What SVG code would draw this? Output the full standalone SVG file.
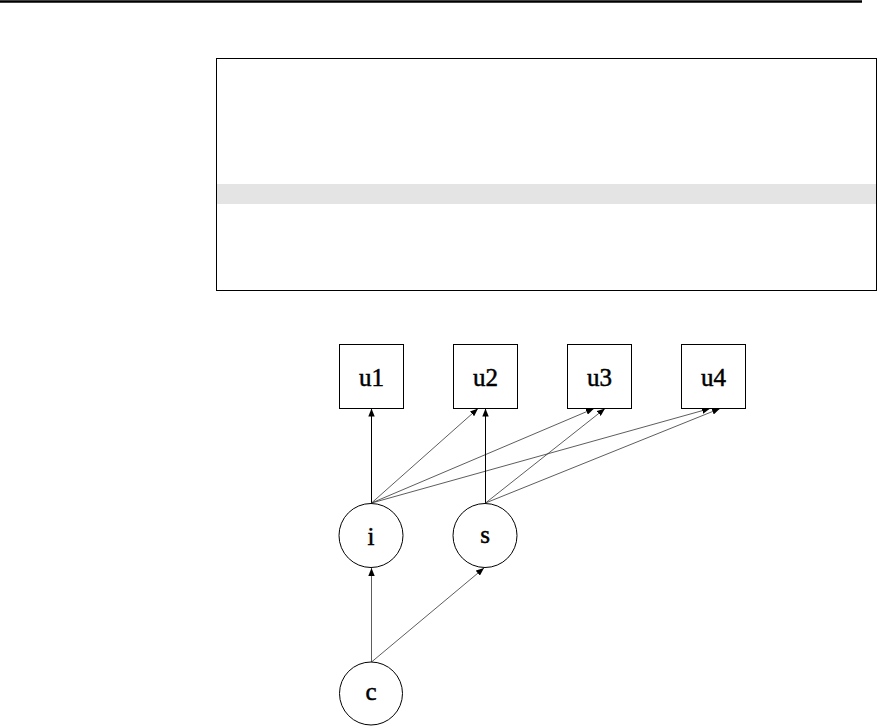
<svg xmlns="http://www.w3.org/2000/svg" width="879" height="727" viewBox="0 0 879 727">
<style>
.node rect, .node circle { fill: #ffffff; stroke: #000000; stroke-width: 1; }
.node text { font-family: "Liberation Serif", "Times New Roman", serif; font-size: 25px; font-weight: normal; text-anchor: middle; fill: #000000; stroke: #000000; stroke-width: 0.5; }
.conn line { stroke: #000000; stroke-width: 1; fill: none; }
.conn line.thin { stroke: #333333; stroke-width: 0.8; }
</style>
<defs>
<marker id="ah" viewBox="0 0 10 8" refX="10" refY="4" markerWidth="8" markerHeight="6.4" markerUnits="userSpaceOnUse" orient="auto">
<path d="M0,0 L10,4 L0,8 Z" fill="#000000"/>
</marker>
</defs>
<rect x="0" y="0" width="879" height="727" fill="#ffffff"/>
<line x1="0" y1="1.5" x2="862" y2="1.5" stroke="#000000" stroke-width="2.5"/>
<g id="panel">
<rect x="216" y="184" width="661" height="20" fill="#e4e4e4"/>
<rect x="216.5" y="58.5" width="660" height="232" fill="none" stroke="#000000" stroke-width="1"/>
</g>
<g id="connectors" class="conn">
<line x1="371.5" y1="503" x2="371.5" y2="408.5" marker-end="url(#ah)"/>
<line class="thin" x1="371.5" y1="503" x2="478" y2="408.5" marker-end="url(#ah)"/>
<line class="thin" x1="371.5" y1="503" x2="594" y2="408.5" marker-end="url(#ah)"/>
<line class="thin" x1="371.5" y1="503" x2="710" y2="408.5" marker-end="url(#ah)"/>
<line x1="485.5" y1="503" x2="485.5" y2="408.5" marker-end="url(#ah)"/>
<line class="thin" x1="485.5" y1="503" x2="605" y2="408.5" marker-end="url(#ah)"/>
<line class="thin" x1="485.5" y1="503" x2="720" y2="408.5" marker-end="url(#ah)"/>
<line class="thin" x1="371.5" y1="662" x2="371.5" y2="568" marker-end="url(#ah)"/>
<line class="thin" x1="371.5" y1="662" x2="484" y2="568" marker-end="url(#ah)"/>
</g>
<g id="u1" class="node"><rect x="339.5" y="344.5" width="64" height="64"/><text x="371.5" y="386">u1</text></g>
<g id="u2" class="node"><rect x="453.5" y="344.5" width="64" height="64"/><text x="485.5" y="386">u2</text></g>
<g id="u3" class="node"><rect x="567.5" y="344.5" width="64" height="64"/><text x="599.5" y="386">u3</text></g>
<g id="u4" class="node"><rect x="681.5" y="344.5" width="64" height="64"/><text x="713.5" y="386">u4</text></g>
<g id="i" class="node"><circle cx="371" cy="535.5" r="32"/><text x="371" y="544.5">i</text></g>
<g id="s" class="node"><circle cx="485" cy="535.5" r="32"/><text x="485" y="542.5">s</text></g>
<g id="c" class="node"><circle cx="371" cy="693.5" r="31.5"/><text x="371" y="699.5">c</text></g>
</svg>
